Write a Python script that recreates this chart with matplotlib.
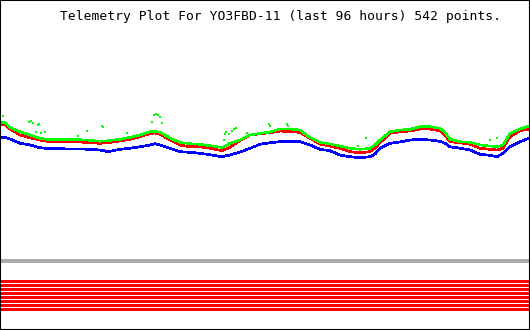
import matplotlib.pyplot as plt

# telemetry readings (arbitrary units, higher = larger value)
TITLE = "Telemetry Plot For YO3FBD-11 (last 96 hours) 542 points."

t = [0, 5, 10, 20, 30, 40, 50, 60, 70, 80, 90, 100, 108, 120, 130, 140, 150, 155, 160,
     170, 180, 190, 200, 210, 222, 230, 240, 250, 260, 270, 280, 290, 300, 310, 320, 330,
     340, 350, 360, 370, 375, 380, 390, 400, 410, 420, 430, 440, 445, 450, 460, 470, 480,
     490, 497, 503, 510, 520, 529]

blue = [137.3, 137.5, 139, 143.3, 145, 147.7, 148.7, 148.7, 149, 149, 149.3, 150, 151.7,
        149.3, 148.3, 146.7, 145, 143.7, 145, 148.3, 151.7, 152.3, 153.3, 154.7, 156.7, 155,
        152, 148.3, 144.3, 142.7, 141.7, 141.7, 141.7, 145, 149.3, 150.7, 155, 156.7, 157.7,
        156.7, 154, 148.3, 143.3, 142, 140, 139.3, 140, 141.3, 143.3, 146.7, 148.3, 150, 154.3,
        155.3, 156.7, 153.3, 146.7, 141.7, 138.3]

red = [125, 124, 129, 135, 137.7, 140, 141.7, 142, 142, 142, 142.7, 143.3, 142.7, 141, 139.3,
       136.7, 133.5, 133, 134.3, 140, 145, 146.7, 146.7, 148.3, 150.7, 147.3, 140.5, 135,
       133.7, 132.7, 131, 131.7, 132.3, 138.3, 144, 146, 148.3, 151.7, 152.7, 151.7, 148,
       142.7, 133.3, 131.7, 131, 129, 129, 130.7, 135, 141.7, 142.7, 144.3, 148.3, 149.3, 150,
       148.3, 136.7, 130.7, 129]

green = [122.7, 122.7, 127.7, 131.7, 135, 138.3, 139.7, 139.7, 139.7, 139.7, 140.3, 141.3,
         140.7, 139.3, 137.3, 135, 131.7, 131.5, 132.3, 138, 142.5, 143.7, 144.3, 145.7, 147.5,
         143.3, 140, 135, 133.3, 132, 129, 129, 130, 137.7, 142.3, 144, 146, 148.3, 149.3,
         148.3, 145, 140, 131.7, 130, 129.3, 126.7, 126.7, 128.3, 132.3, 139.3, 141.7, 142.3,
         145, 146, 146.7, 145, 133.3, 129, 126]

# stray green samples above the trace
spike_t = [3, 29, 31, 33, 36, 38, 39, 41, 45, 78, 87, 102, 103, 127, 152, 154, 156, 158, 160,
           162, 224, 225, 226, 229, 232, 234, 236, 247, 269, 270, 287, 288, 358, 366, 490, 497]
spike_v = [116, 122, 121, 123, 132, 125, 124, 133, 131.7, 135.7, 130.7, 125.7, 127, 133,
           121.7, 115, 114, 115, 117, 123, 140, 134, 132, 134, 130.5, 129, 127.5, 133.3, 124,
           126, 124, 126, 145.7, 138.3, 140, 138.3]

# digital bits, all set
bits = [1, 1, 1, 1, 1, 1, 1, 1]


def to_val(v):
    return [330 - x for x in v]


def main():
    fig = plt.figure(figsize=(5.3, 3.3), dpi=100)
    ax = fig.add_axes([0, 0, 1, 1])
    ax.set_xlim(0, 530)
    ax.set_ylim(0, 330)

    ax.plot(t, to_val(blue), color="#0000ff", lw=1.2, antialiased=False)
    ax.plot(t, to_val(red), color="#ff0000", lw=1.2, antialiased=False)
    ax.plot(t, to_val(green), color="#00ff00", lw=1.1, antialiased=False)
    ax.scatter(spike_t, to_val(spike_v), s=3, marker="s", color="#00ff00", lw=0)

    # separator between analog and digital channels
    ax.axhline(330 - 260.5, color="#aaaaaa", lw=1.5, antialiased=False)
    for i, b in enumerate(bits):
        if b:
            ax.axhline(330 - (281.3 + 4 * i), color="#ff0000", lw=2.16, antialiased=False)

    ax.text(280, 330 - 16.5, TITLE, ha="center", va="center",
            family="DejaVu Sans Mono", fontsize=9.4)

    ax.set_xticks([])
    ax.set_yticks([])
    for sp in ax.spines.values():
        sp.set_color("black")
        sp.set_linewidth(1.5)

    fig.savefig("out.png", dpi=100)


if __name__ == '__main__':
    main()
